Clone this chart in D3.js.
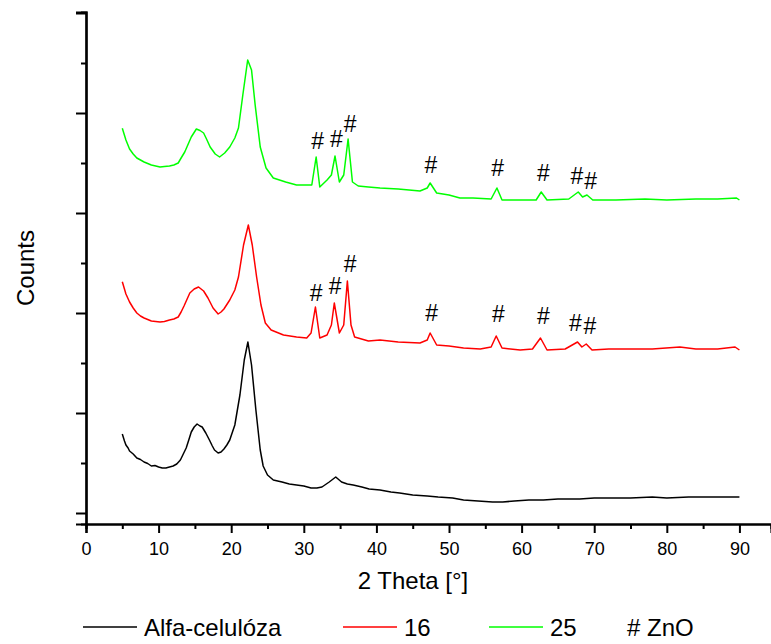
<!DOCTYPE html>
<html>
<head>
<meta charset="utf-8">
<script src="https://cdn.jsdelivr.net/npm/d3@7"></script>
<style>
  body { margin: 0; background: #fff; }
  svg text { font-family: Arial, "Liberation Sans", sans-serif; fill: #000; }
</style>
</head>
<body>
<div id="chart"></div>
<script>
// 2 theta [deg] and counts (curves already stacked)
var celuloza = [
  [5,790],[5.3,720],[5.5,680],[5.8,650],[6,620],[6.5,590],[7,550],[7.5,535],[8,510],[8.5,495],
  [9,470],[9.5,475],[10,460],[10.5,450],[11,450],[11.5,460],[12,470],[12.5,490],[13,530],
  [13.4,590],[13.8,650],[14.2,740],[14.5,810],[14.9,860],[15.3,890],[15.7,870],[16,860],[16.5,800],
  [17,730],[17.4,670],[17.7,630],[18.2,600],[18.6,610],[19,640],[19.4,680],[19.8,730],
  [20.5,880],[21.2,1180],[21.8,1530],[22.3,1710],[22.8,1480],[23.4,1030],[24,630],[24.4,470],
  [25,380],[25.8,330],[27,310],[28,290],[29,280],[30,270],[31,250],[31.8,250],[32.5,260],
  [33.5,310],[34.4,360],[35.2,310],[36,290],[36.8,280],[38,260],[39,240],[40.5,230],[42,210],
  [43.2,200],[45,180],[47,170],[48.5,160],[50.5,150],[52,130],[54,120],[56,110],[57.4,110],
  [59,120],[61,130],[63,130],[65,140],[68,140],[70,150],[72,150],[75,150],[78,160],[80,150],
  [83,160],[86,160],[88,160],[90,160]
];
var s16 = [
  [5,2313],[5.5,2190],[6,2110],[6.5,2050],[7,2000],[7.5,1970],[8,1950],[8.5,1935],[9,1920],
  [9.6,1915],[10.2,1910],[10.8,1915],[11.5,1930],[12.1,1940],[12.7,1960],[13.1,2010],
  [13.5,2070],[14.3,2200],[14.9,2240],[15.5,2260],[16.2,2220],[16.8,2150],[17.5,2050],[18.2,1990],
  [18.6,2010],[19,2040],[19.8,2130],[20.5,2230],[21,2360],[21.7,2680],[22.36,2880],[22.9,2680],
  [23.5,2360],[24.1,2080],[24.7,1900],[25.5,1830],[27.2,1780],[29,1760],[30.4,1750],[31,1800],
  [31.6,2060],[32.2,1750],[33.2,1780],[33.8,1880],[34.2,2100],[34.9,1800],[35.5,1880],[36,2320],
  [36.5,1880],[37,1760],[38.9,1720],[40.5,1730],[43,1710],[46,1700],[47,1730],[47.4,1800],
  [48.3,1680],[50,1670],[52,1650],[54.3,1640],[55.8,1660],[56.5,1770],[57.3,1650],[59.8,1630],
  [61.5,1640],[62.6,1750],[63.5,1630],[66,1640],[67.7,1710],[68.3,1660],[68.9,1690],[69.7,1630],
  [72,1640],[75,1640],[78,1640],[81.8,1660],[84,1640],[87,1640],[89.4,1660],[90,1630]
];
var s25 = [
  [5,3847],[5.5,3730],[6,3640],[6.5,3590],[7,3550],[7.5,3530],[8,3510],[8.5,3495],[9,3480],
  [9.6,3470],[10.2,3460],[10.8,3465],[11.5,3470],[12.1,3480],[12.7,3500],[13.1,3550],
  [13.6,3610],[14.5,3760],[15.2,3840],[15.7,3825],[16.2,3800],[16.6,3740],[17.1,3660],[17.8,3590],
  [18.4,3560],[19.1,3600],[19.8,3660],[20.5,3750],[21,3850],[21.6,4180],[22.27,4530],[22.8,4430],
  [23.3,4080],[24,3660],[24.8,3450],[25.8,3350],[27.5,3310],[29,3280],[31.1,3280],[31.7,3560],
  [32.2,3260],[33.2,3330],[33.8,3380],[34.3,3570],[34.9,3310],[35.5,3380],[36.1,3740],[36.7,3310],
  [37.5,3270],[38.9,3260],[40.5,3250],[43,3240],[46,3220],[47,3250],[47.4,3300],[48.3,3200],
  [50,3180],[51.5,3150],[53.3,3150],[55.8,3140],[56.6,3250],[57.3,3130],[60,3130],[62,3130],
  [62.7,3210],[63.5,3130],[66.5,3140],[67.8,3210],[68.4,3160],[69,3180],[69.8,3130],[73,3130],
  [77,3140],[80,3130],[84,3140],[87,3140],[89.6,3150],[90,3130]
];

// ZnO markers (#) above the peaks
var znoMarks16 = [[31.7,2197],[34.3,2270],[36.4,2490],[47.6,2003],[56.8,1990],[63.0,1970],[67.4,1897],[69.4,1870]];
var znoMarks25 = [[31.9,3720],[34.5,3737],[36.4,3890],[47.5,3480],[56.7,3447],[63.0,3403],[67.6,3370],[69.5,3323]];

var xTicks = [0,10,20,30,40,50,60,70,80,90];
var seriesNames = ["Alfa-celulóza", "16", "25"];
var seriesColors = ["#000000", "#ff0000", "#00ff00"];

var width = 771, height = 644;
var svg = d3.select("#chart").append("svg")
  .attr("width", width)
  .attr("height", height);

var x = d3.scaleLinear().domain([0, 94.35]).range([86, 771]);
var y = d3.scaleLinear().domain([-110, 5010]).range([524, 12]);

var line = d3.line()
  .x(d => x(d[0]))
  .y(d => y(d[1]));

[celuloza, s16, s25].forEach(function(s, i) {
  svg.append("path")
    .datum(s)
    .attr("fill", "none")
    .attr("stroke", seriesColors[i])
    .attr("stroke-width", 1.5)
    .attr("stroke-linejoin", "round")
    .attr("d", line);
});

// # markers
svg.selectAll(".zno")
  .data(znoMarks16.concat(znoMarks25))
  .enter().append("text")
  .attr("class", "zno")
  .attr("x", d => x(d[0]))
  .attr("y", d => y(d[1]))
  .attr("text-anchor", "middle")
  .attr("dominant-baseline", "central")
  .style("font-size", "23px")
  .text("#");

// axes
var xAxis = d3.axisBottom(x).tickValues(xTicks).tickSize(9).tickPadding(9).tickFormat(d3.format("d"));
var xMinor = d3.axisBottom(x).tickValues(d3.range(5, 95, 10)).tickSize(5).tickFormat("");
var yAxis = d3.axisLeft(y).tickValues(d3.range(0, 5001, 1000)).tickSize(10).tickFormat("");
var yMinor = d3.axisLeft(y).tickValues(d3.range(500, 5000, 1000)).tickSize(5).tickFormat("");

var gx = svg.append("g").attr("transform", "translate(0,524)").call(xAxis);
svg.append("g").attr("transform", "translate(0,524)").call(xMinor);
svg.append("g").attr("transform", "translate(86,0)").call(yAxis);
svg.append("g").attr("transform", "translate(86,0)").call(yMinor);

svg.selectAll(".domain").attr("stroke", "#000").attr("stroke-width", 2.2);
svg.selectAll(".tick line").attr("stroke", "#000").attr("stroke-width", 2);
gx.selectAll("text").style("font-size", "18px");

// axis titles
svg.append("text")
  .attr("x", 413).attr("y", 580)
  .attr("text-anchor", "middle")
  .attr("dominant-baseline", "central")
  .style("font-size", "24px")
  .text("2 Theta [°]");

svg.append("text")
  .attr("transform", "translate(25,268) rotate(-90)")
  .attr("text-anchor", "middle")
  .attr("dominant-baseline", "central")
  .style("font-size", "24px")
  .text("Counts");

// legend
var legendX = [83, 343, 489];
var legend = svg.append("g").attr("transform", "translate(0,627)");
seriesNames.forEach(function(name, i) {
  legend.append("line")
    .attr("x1", legendX[i]).attr("x2", legendX[i] + 54)
    .attr("y1", 0).attr("y2", 0)
    .attr("stroke", seriesColors[i])
    .attr("stroke-width", 1.3);
  legend.append("text")
    .attr("x", legendX[i] + 61).attr("y", 0)
    .attr("dominant-baseline", "central")
    .style("font-size", "24px")
    .text(name);
});
legend.append("text")
  .attr("x", 627).attr("y", 0)
  .attr("dominant-baseline", "central")
  .style("font-size", "24px")
  .text("# ZnO");
</script>
</body>
</html>
